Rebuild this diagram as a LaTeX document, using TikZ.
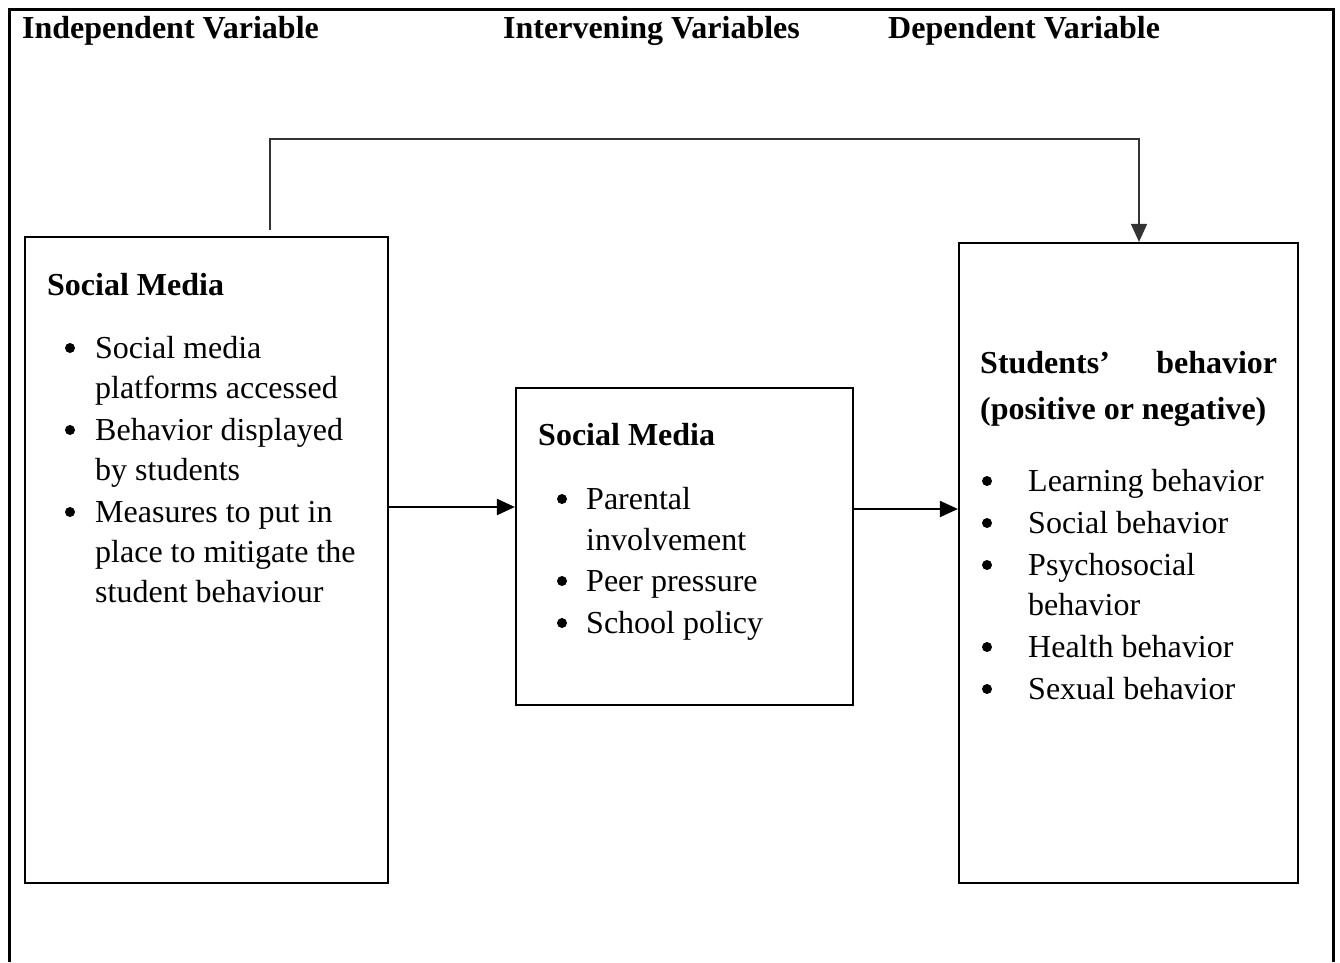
\documentclass[tikz,border=0pt]{standalone}
\usepackage{fontspec}
\setmainfont{Liberation Serif}
\usetikzlibrary{
	arrows.meta
}

\begin{document}
\begin{tikzpicture}[
	>={Triangle[length=18pt,width=16pt]},
	x=1pt, y=-1pt,
	every node/.style={inner sep=0, font=\fontsize{32}{40}\selectfont},
	box/.style={draw, line width=2.2pt},
	dot/.style={circle, fill, minimum size=10pt},
	flow/.style={->, line width=2pt},
	link/.style={->, line width=1.5pt, draw=black!80}
]
	\useasboundingbox (0,0) rectangle (1340,962);
	\draw[line width=3pt] (9,962) -- (9,9) -- (1333,9) -- (1333,962);

	\node(hindep)[anchor=base west] at (22,38) {\bfseries Independent Variable};
	\node(hinterv)[anchor=base west] at (503,38) {\bfseries Intervening Variables};
	\node(hdep)[anchor=base west] at (888,38) {\bfseries Dependent Variable};

	\node(media)[box, minimum width=363pt, minimum height=646pt] at (206.5,560) {};
	\node(mediators)[box, minimum width=337pt, minimum height=317pt] at (684.5,546.5) {};
	\node(behav)[box, minimum width=339pt, minimum height=640pt] at (1128.5,563) {};

	\node(mediatitle)[anchor=base west] at (47,295) {\bfseries Social Media};
	\foreach \yy/\txt in {358/Social media, 398/platforms accessed, 440/Behavior displayed,
		480/by students, 522/Measures to put in, 562/place to mitigate the, 602/student behaviour}
		\node(ml\yy)[anchor=base west] at (95,\yy) {\txt};
	\foreach \yy in {358, 440, 522}
		\node(mb\yy)[dot] at (70,\yy-10) {};

	\node(medtitle)[anchor=base west] at (538,445) {\bfseries Social Media};
	\foreach \yy/\txt in {509/Parental, 550/involvement, 591/Peer pressure, 633/School policy}
		\node(il\yy)[anchor=base west] at (586,\yy) {\txt};
	\foreach \yy in {509, 591, 633}
		\node(ib\yy)[dot] at (562,\yy-10) {};

	\node(behavtitle)[anchor=base west] at (980,373) {\bfseries\makebox[297pt][l]{Students’\hfill behavior}};
	\node(behavsub)[anchor=base west] at (980,419) {\bfseries (positive or negative)};
	\foreach \yy/\txt in {491/Learning behavior, 533/Social behavior, 575/Psychosocial,
		615/behavior, 657/Health behavior, 699/Sexual behavior}
		\node(bl\yy)[anchor=base west] at (1028,\yy) {\txt};
	\foreach \yy in {491, 533, 575, 657, 699}
		\node(bb\yy)[dot] at (987,\yy-10) {};

	\coordinate (topbend) at (700,139);
	\draw[link] ([xshift=63.5pt,yshift=6pt]media.north) |- (topbend) -| ([xshift=10.5pt]behav.north);

	\draw[flow] ([yshift=53pt]media.east) -- ([yshift=53pt]media.east -| mediators.west);
	\draw[flow] ([yshift=37.5pt]mediators.east) -- ([yshift=37.5pt]mediators.east -| behav.west);
\end{tikzpicture}
\end{document}
